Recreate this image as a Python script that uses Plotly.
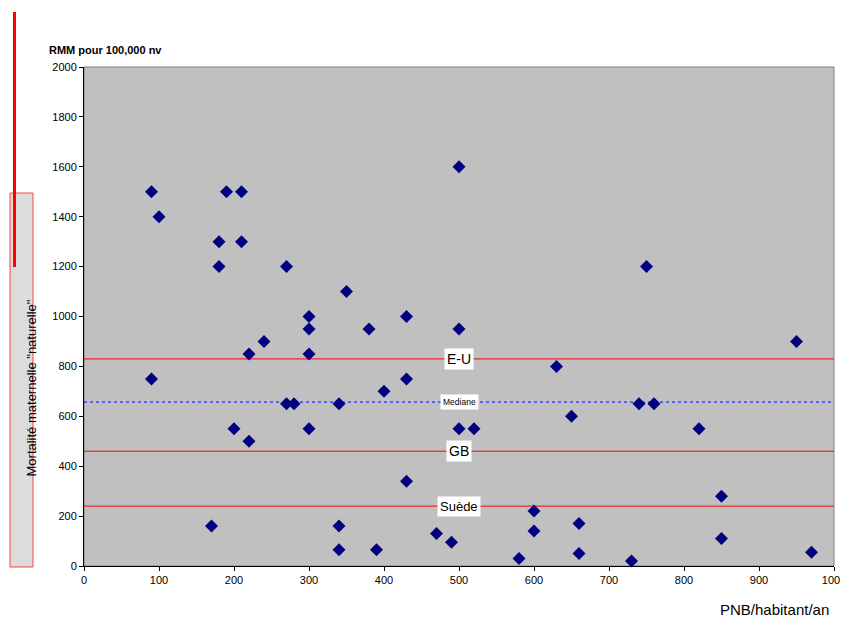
import plotly.graph_objects as go

pnb = [90, 100, 180, 180, 190, 210, 210, 220, 240, 270, 300, 300, 300, 350, 380, 430, 500, 500,
       90, 270, 280, 340, 430, 400, 200, 220, 300, 500, 520, 630, 650, 740, 760, 820, 750, 950,
       430, 170, 340, 340, 390, 470, 490, 580, 600, 600, 660, 660, 730, 850, 850, 970]
rmm = [1500, 1400, 1300, 1200, 1500, 1500, 1300, 850, 900, 1200, 1000, 950, 850, 1100, 950, 1000, 950, 1600,
       750, 650, 650, 650, 750, 700, 550, 500, 550, 550, 550, 800, 600, 650, 650, 550, 1200, 900,
       340, 160, 160, 65, 65, 130, 95, 30, 220, 140, 170, 50, 20, 280, 110, 55]

ref_names = ["E-U", "Mediane", "GB", "Suède"]
ref_values = [830, 657, 460, 240]
ref_colors = ["red", "blue", "red", "red"]
ref_dash = ["solid", "dot", "solid", "solid"]
ref_font = [14, 8.5, 14, 13]
label_x = 500

x_ticks = list(range(0, 1001, 100))
y_ticks = list(range(0, 2001, 200))

FONT = "Liberation Sans, Arial"
OFF = 8  # page body margin

fig = go.Figure()
fig.add_trace(go.Scatter(
    x=pnb, y=rmm, mode="markers",
    marker=dict(symbol="diamond", size=10, color="#000080", line=dict(width=0)),
    showlegend=False, cliponaxis=False))

shapes = []
annotations = []
shapes.append(dict(type="rect", xref="paper", yref="paper", x0=0, x1=1, y0=0, y1=1,
                   line=dict(color="#808080", width=1), layer="below"))
for name, v, c, d, fs in zip(ref_names, ref_values, ref_colors, ref_dash, ref_font):
    shapes.append(dict(type="line", xref="x", yref="y", x0=0, x1=1000, y0=v, y1=v,
                       line=dict(color=c, width=1, dash=d), layer="below"))
    annotations.append(dict(x=label_x, y=v, xref="x", yref="y", text=name, showarrow=False,
                            bgcolor="white", font=dict(family=FONT, size=fs, color="black"),
                            borderpad=2))

W, H, L, T = 750.0, 499.0, 84.0, 67.0
def px(x):
    return (x - L) / W
def py(y):
    return 1 - (y - T) / H

shapes.append(dict(type="rect", xref="paper", yref="paper",
                   x0=px(10), x1=px(33), y0=py(567), y1=py(193),
                   fillcolor="#dcdcdc", line=dict(color="#ff4040", width=1)))
shapes.append(dict(type="line", xref="paper", yref="paper",
                   x0=px(14.5), x1=px(14.5), y0=py(12), y1=py(267),
                   line=dict(color="#ff0000", width=3)))

annotations.append(dict(x=px(21), y=py(388), xref="paper", yref="paper",
                        text='Mortalité maternelle "naturelle"', textangle=-90, showarrow=False,
                        font=dict(family=FONT, size=13, color="black")))
annotations.append(dict(x=px(47), y=py(42), xref="paper", yref="paper", xanchor="left",
                        text="<b>RMM pour 100,000 nv</b>", showarrow=False,
                        font=dict(family=FONT, size=11, color="black")))
annotations.append(dict(x=px(831), y=py(620), xref="paper", yref="paper", xanchor="right",
                        text="PNB/habitant/an", showarrow=False,
                        font=dict(family=FONT, size=15, color="black")))

fig.update_layout(
    width=848 - OFF, height=626 - OFF,
    margin=dict(l=84 - OFF, r=14, t=67 - OFF, b=60),
    paper_bgcolor="white", plot_bgcolor="#c0c0c0",
    font=dict(family=FONT, size=11, color="black"),
    shapes=shapes, annotations=annotations,
    xaxis=dict(range=[0, 1000], tickvals=x_ticks, ticks="outside", ticklen=4, tickcolor="black",
               showline=True, linecolor="black", linewidth=1, showgrid=False, zeroline=False,
               tickfont=dict(size=11), automargin=False),
    yaxis=dict(range=[0, 2000], tickvals=y_ticks, ticks="outside", ticklen=4, tickcolor="black",
               showline=True, linecolor="black", linewidth=1, showgrid=False, zeroline=False,
               tickfont=dict(size=11), automargin=False),
)
fig.write_html("out.html")
